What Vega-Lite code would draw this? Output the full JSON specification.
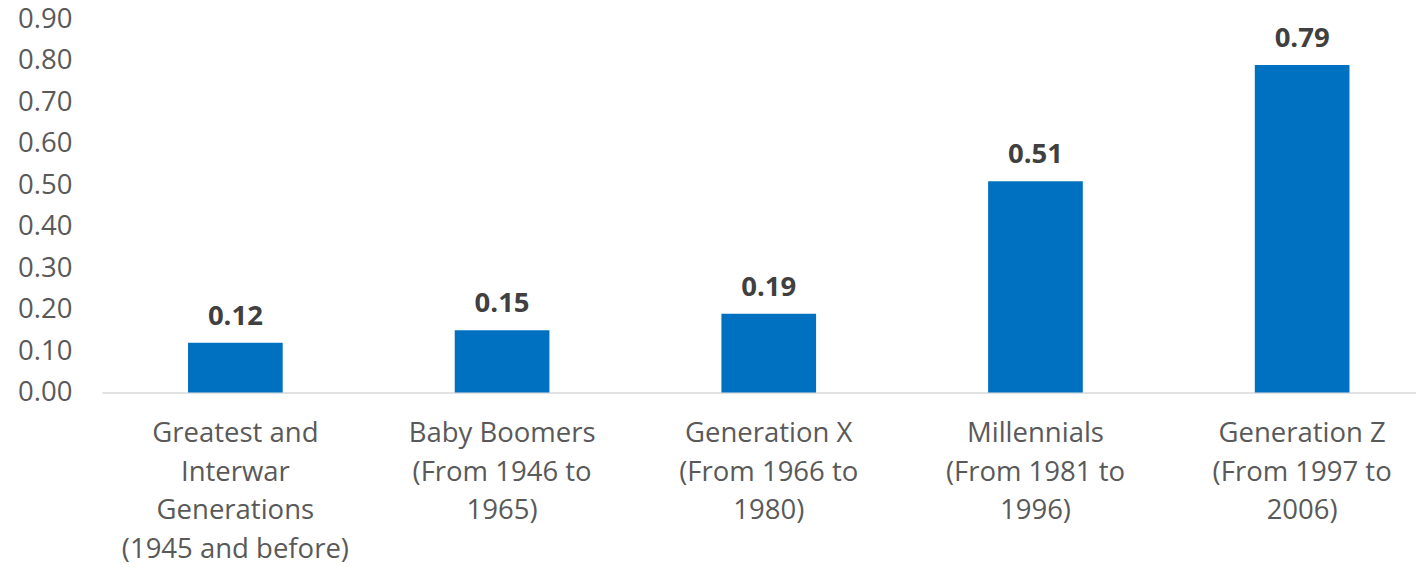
{
  "$schema": "https://vega.github.io/schema/vega-lite/v6.json",
  "autosize": "none",
  "width": 1314,
  "height": 373,
  "padding": {"left": 102, "top": 19.5, "right": 0, "bottom": 174.5},
  "background": "white",
  "config": {"view": {"stroke": null}, "font": "Open Sans"},
  "data": {
    "values": [
      {"generation": "Greatest and|Interwar|Generations|(1945 and before)", "value": 0.12},
      {"generation": "Baby Boomers|(From 1946 to|1965)", "value": 0.15},
      {"generation": "Generation X|(From 1966 to|1980)", "value": 0.19},
      {"generation": "Millennials|(From 1981 to|1996)", "value": 0.51},
      {"generation": "Generation Z|(From 1997 to|2006)", "value": 0.79}
    ]
  },
  "encoding": {
    "x": {
      "field": "generation",
      "type": "nominal",
      "sort": null,
      "scale": {"paddingInner": 0.645, "paddingOuter": 0.286, "align": 0.564},
      "axis": {
        "title": null,
        "labelAngle": 0,
        "labelExpr": "split(datum.label, '|')",
        "labelFont": "Open Sans",
        "labelFontSize": 27.5,
        "labelColor": "#595959",
        "labelLineHeight": 38.5,
        "labelPadding": 27,
        "labelLimit": 400,
        "ticks": false,
        "domainColor": "#D9D9D9",
        "domainWidth": 1.5
      }
    },
    "y": {
      "field": "value",
      "type": "quantitative",
      "scale": {"domain": [0, 0.9], "nice": false},
      "axis": {
        "title": null,
        "values": [0, 0.1, 0.2, 0.3, 0.4, 0.5, 0.6, 0.7, 0.8, 0.9],
        "format": ".2f",
        "labelFont": "Open Sans",
        "labelFontSize": 27.5,
        "labelColor": "#595959",
        "labelPadding": 30,
        "ticks": false,
        "domain": false,
        "grid": false
      }
    }
  },
  "layer": [
    {"mark": {"type": "bar", "color": "#0070C0"}},
    {
      "mark": {"type": "text", "font": "Open Sans", "fontSize": 27.5, "fontWeight": "bold", "color": "#404040", "baseline": "alphabetic", "dy": -18},
      "encoding": {"text": {"field": "value", "type": "quantitative", "format": ".2f"}}
    }
  ]
}
